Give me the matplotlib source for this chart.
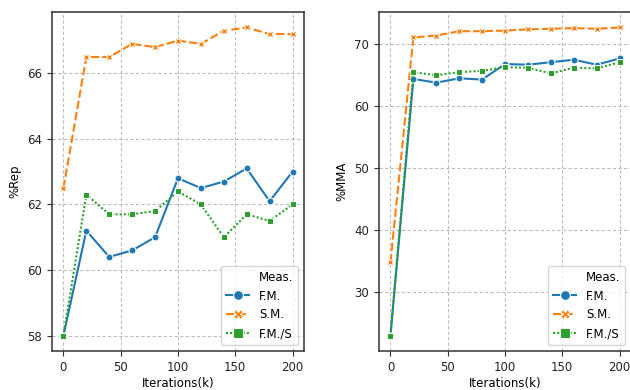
import matplotlib
matplotlib.use('Agg')
import matplotlib.pyplot as plt
from matplotlib.lines import Line2D

iterations = [0, 20, 40, 60, 80, 100, 120, 140, 160, 180, 200]
series_names = ['F.M.', 'S.M.', 'F.M./S']

rep_fm = [58.0, 61.2, 60.4, 60.6, 61.0, 62.8, 62.5, 62.7, 63.1, 62.1, 63.0]
rep_sm = [62.5, 66.5, 66.5, 66.9, 66.8, 67.0, 66.9, 67.3, 67.4, 67.2, 67.2]
rep_fms = [58.0, 62.3, 61.7, 61.7, 61.8, 62.4, 62.0, 61.0, 61.7, 61.5, 62.0]

mma_fm = [22.9, 64.3, 63.7, 64.4, 64.2, 66.7, 66.6, 67.0, 67.4, 66.6, 67.6]
mma_sm = [34.7, 71.0, 71.3, 72.0, 72.0, 72.1, 72.3, 72.4, 72.5, 72.4, 72.6]
mma_fms = [22.9, 65.4, 64.9, 65.4, 65.6, 66.2, 66.1, 65.2, 66.1, 66.0, 67.0]

rep_ticks = [58, 60, 62, 64, 66]
mma_ticks = [30, 40, 50, 60, 70]
x_ticks = [0, 50, 100, 150, 200]

colors = ['#1f77b4', '#ff7f0e', '#2ca02c']
markers = ['o', 'X', 's']
dashes = [(None, None), (4, 1.5), (1, 1)]

plt.rcParams['font.family'] = ['DejaVu Sans']
plt.rcParams['font.size'] = 8.5

fig = plt.figure(figsize=(6.3, 3.9), dpi=100)
ax1 = fig.add_axes([0.0825, 0.1, 0.4, 0.869])
ax2 = fig.add_axes([0.6016, 0.1, 0.4, 0.869])


def draw(ax, data, yticks, ylabel):
    for vals, name, c, m, d in zip(data, series_names, colors, markers, dashes):
        line, = ax.plot(iterations, vals, color=c, marker=m, markersize=5,
                        markeredgecolor='white', markeredgewidth=0.75,
                        linewidth=1.5, label=name)
        if d[0] is not None:
            line.set_dashes(d)
    ax.set_yticks(yticks)
    ax.set_xticks(x_ticks)
    ax.grid(True, linestyle=(0, (3, 2)), color='#bdbdbd', linewidth=0.8)
    ax.set_axisbelow(True)
    for s in ax.spines.values():
        s.set_color('#333333')
        s.set_linewidth(1.1)
    ax.tick_params(colors='#333333', labelcolor='#222222', length=3.5)
    ax.set_xlabel('Iterations(k)', labelpad=2)
    ax.set_ylabel(ylabel, labelpad=4)

    # seaborn-style legend: the hue name sits as the first row
    handles = [Line2D([], [], linestyle='none', marker='')]
    labels = ['Meas.']
    for name, c, m, d in zip(series_names, colors, markers, dashes):
        h = Line2D([], [], color=c, marker=m, markersize=7,
                   markeredgecolor='white', markeredgewidth=0.75, linewidth=1.5)
        if d[0] is not None:
            h.set_dashes(d)
        handles.append(h)
        labels.append(name)
    ax.legend(handles, labels, loc='lower right', framealpha=0.8,
              edgecolor='#cccccc', handlelength=2.0, borderpad=0.4,
              labelspacing=0.5, fontsize=8.5)


draw(ax1, [rep_fm, rep_sm, rep_fms], rep_ticks, '%Rep')
draw(ax2, [mma_fm, mma_sm, mma_fms], mma_ticks, '%MMA')

fig.savefig('out.png', dpi=100)
